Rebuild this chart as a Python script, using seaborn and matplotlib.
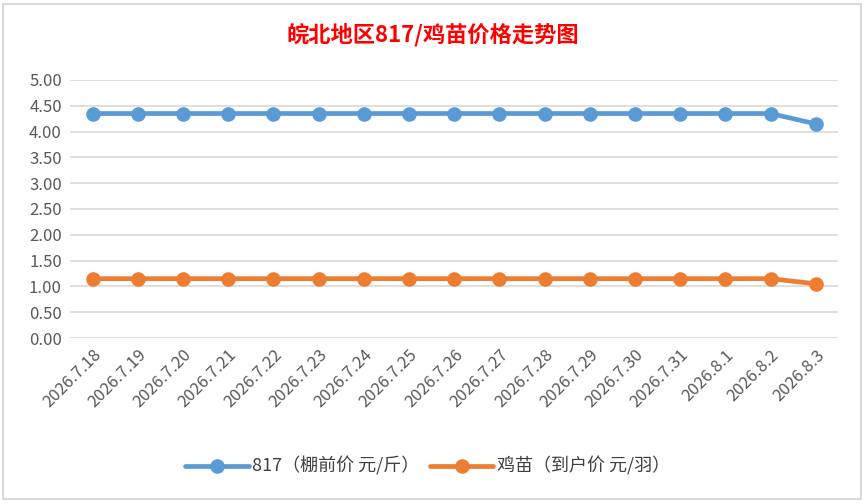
import matplotlib
matplotlib.use("Agg")
import matplotlib.pyplot as plt
import seaborn as sns
import pandas as pd

# data
dates = ["2026.7.18", "2026.7.19", "2026.7.20", "2026.7.21", "2026.7.22", "2026.7.23",
         "2026.7.24", "2026.7.25", "2026.7.26", "2026.7.27", "2026.7.28", "2026.7.29",
         "2026.7.30", "2026.7.31", "2026.8.1", "2026.8.2", "2026.8.3"]
price_817 = [4.35] * 16 + [4.15]
price_chick = [1.15] * 16 + [1.05]
series_names = ["817（棚前价 元/斤）", "鸡苗（到户价 元/羽）"]
colors = ["#5B9BD5", "#ED7D31"]

df = pd.DataFrame({
    "date": dates * 2,
    "x": list(range(len(dates))) * 2,
    "price": price_817 + price_chick,
    "series": [series_names[0]] * len(dates) + [series_names[1]] * len(dates),
})

sns.set_style("white")
plt.rcParams['font.family'] = ['Noto Sans CJK SC', 'DejaVu Sans']

fig = plt.figure(figsize=(8.66, 5.03), dpi=100)
ax = fig.add_axes([0.081, 0.328, 0.887, 0.513])

sns.lineplot(data=df, x="x", y="price", hue="series", palette=colors,
             marker="o", markersize=10.5, linewidth=3.4, markeredgewidth=0, ax=ax)

ax.set_xlim(-0.5, len(dates) - 0.5)
ax.set_ylim(0, 5)
ax.set_yticks([i * 0.5 for i in range(11)])
ax.set_yticklabels([f"{i * 0.5:.2f}" for i in range(11)])
ax.set_xticks(range(len(dates)))
ax.set_xticklabels(dates, rotation=45, ha="right", rotation_mode="anchor")
ax.tick_params(axis="both", colors="#595959", labelsize=12, length=0, pad=6)
ax.yaxis.grid(True, color="#D9D9D9", linewidth=1.2)
ax.set_axisbelow(True)
for s in ax.spines.values():
    s.set_visible(False)
ax.set_xlabel("")
ax.set_ylabel("")

ax.legend_.remove()
handles, labels = ax.get_legend_handles_labels()
fig.legend(handles, labels, loc="center", bbox_to_anchor=(0.494, 0.073), ncol=2,
           frameon=False, fontsize=13, handlelength=3.5, columnspacing=0.6,
           handletextpad=0.2, labelcolor="#404040")

fig.text(0.5, 0.93, "皖北地区817/鸡苗价格走势图", ha="center", va="center",
         color="red", fontsize=16, fontweight="bold")

# chart frame
fig.patches.append(plt.Rectangle((0.004, 0.008), 0.99, 0.984, transform=fig.transFigure,
                                 fill=False, edgecolor="#D9D9D9", linewidth=1.5))

fig.savefig("out.png", dpi=100)
